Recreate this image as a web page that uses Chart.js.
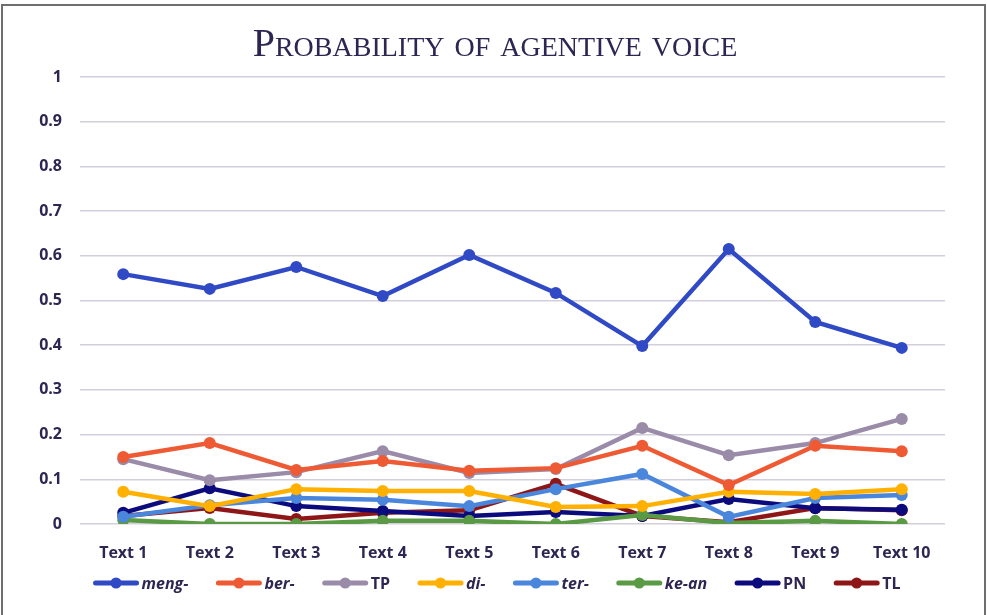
<!DOCTYPE html>
<html>
<head>
<meta charset="utf-8">
<script src="https://cdn.jsdelivr.net/npm/chart.js@4.4.1/dist/chart.umd.min.js"></script>
<style>
  body { margin: 0; background: #fff; }
  #wrap { position: relative; width: 987px; height: 615px; overflow: hidden; }
  #frame { position: absolute; left: 1px; top: 4px; width: 981px; height: 640px;
           border: 2px solid #6e6e6e; border-bottom: none; pointer-events: none; }
</style>
</head>
<body>
<div id="wrap">
  <canvas id="chart" width="987" height="615"></canvas>
  <div id="frame"></div>
</div>
<script>
const categories = ['Text 1', 'Text 2', 'Text 3', 'Text 4', 'Text 5', 'Text 6', 'Text 7', 'Text 8', 'Text 9', 'Text 10'];

const meng = [0.559, 0.526, 0.575, 0.510, 0.602, 0.517, 0.398, 0.615, 0.452, 0.394];
const ber  = [0.150, 0.181, 0.121, 0.141, 0.119, 0.125, 0.175, 0.087, 0.175, 0.163];
const tp   = [0.145, 0.098, 0.116, 0.163, 0.114, 0.123, 0.215, 0.154, 0.181, 0.235];
const di   = [0.072, 0.040, 0.078, 0.074, 0.074, 0.038, 0.040, 0.072, 0.067, 0.078];
const ter  = [0.016, 0.042, 0.058, 0.054, 0.040, 0.078, 0.112, 0.016, 0.058, 0.065];
const kean = [0.009, 0.000, 0.000, 0.007, 0.007, 0.000, 0.020, 0.002, 0.007, 0.000];
const pn   = [0.025, 0.080, 0.040, 0.029, 0.018, 0.027, 0.018, 0.056, 0.035, 0.032];
const tl   = [0.018, 0.036, 0.011, 0.025, 0.031, 0.090, 0.018, 0.004, 0.036, 0.031];

const TEXT = '#2e2552';

function serie(label, data, color, italic) {
    return {
        label: label,
        data: data,
        borderColor: color,
        backgroundColor: color,
        borderWidth: 4.5,
        pointRadius: 6,
        pointHoverRadius: 6,
        pointBorderWidth: 0,
        tension: 0,
        italic: italic
    };
}

// titulo en versalitas + leyenda a medida (estilo por elemento)
const extras = {
    id: 'extras',
    afterDraw(chart) {
        const ctx = chart.ctx;
        ctx.save();
        ctx.fillStyle = TEXT;
        ctx.textAlign = 'center';
        ctx.textBaseline = 'alphabetic';
        ctx.font = "small-caps 40px 'Liberation Serif'";
        ctx.fillText('Probability of agentive voice', 495, 56);

        const sets = chart.data.datasets;
        const fontOf = ds => (ds.italic ? 'italic ' : '') + "bold 16px 'Open Sans'";
        const symW = 45, gapTxt = 3, gapItem = 28;
        let total = 0;
        sets.forEach((ds, i) => {
            ctx.font = fontOf(ds);
            total += symW + gapTxt + ctx.measureText(ds.label).width + (i < sets.length - 1 ? gapItem : 0);
        });
        let x = 497 - total / 2;
        const y = 583;
        ctx.textAlign = 'left';
        ctx.textBaseline = 'middle';
        sets.forEach(ds => {
            ctx.strokeStyle = ds.borderColor;
            ctx.lineWidth = 5;
            ctx.lineCap = 'round';
            ctx.beginPath();
            ctx.moveTo(x + 2, y);
            ctx.lineTo(x + symW - 2, y);
            ctx.stroke();
            ctx.fillStyle = ds.borderColor;
            ctx.beginPath();
            ctx.arc(x + symW / 2, y, 5.5, 0, Math.PI * 2);
            ctx.fill();
            ctx.font = fontOf(ds);
            ctx.fillStyle = TEXT;
            ctx.fillText(ds.label, x + symW + gapTxt, y + 1);
            x += symW + gapTxt + ctx.measureText(ds.label).width + gapItem;
        });
        ctx.restore();
    }
};

const ctx = document.getElementById('chart').getContext('2d');
new Chart(ctx, {
    type: 'line',
    data: {
        labels: categories,
        datasets: [
            serie('meng-', meng, '#3049c4', true),
            serie('ber-', ber, '#ee5a34', true),
            serie('TP', tp, '#9a8ca8', false),
            serie('di-', di, '#ffb000', true),
            serie('ter-', ter, '#4a86dc', true),
            serie('ke-an', kean, '#5b9a45', true),
            serie('PN', pn, '#0b0b7e', false),
            serie('TL', tl, '#8e1616', false)
        ]
    },
    options: {
        responsive: false,
        animation: false,
        layout: { padding: { top: 77, right: 42, left: 0, bottom: 0 } },
        plugins: {
            legend: { display: false },
            title: { display: false },
            tooltip: { enabled: false }
        },
        scales: {
            x: {
                offset: true,
                grid: { display: false },
                border: { display: false },
                ticks: { color: TEXT, padding: 12, font: { family: 'Open Sans', size: 16, weight: 'bold' }, maxRotation: 0 },
                afterFit(scale) { scale.height = 91; }
            },
            y: {
                min: 0,
                max: 1,
                grid: { color: '#d3cedb', lineWidth: 1.5, drawTicks: false },
                border: { display: false },
                ticks: {
                    stepSize: 0.1,
                    color: TEXT,
                    padding: 18,
                    font: { family: 'Open Sans', size: 16, weight: 'bold' },
                    callback: v => +v.toFixed(1)
                },
                afterFit(scale) { scale.width = 80; }
            }
        }
    },
    plugins: [extras]
});
</script>
</body>
</html>
